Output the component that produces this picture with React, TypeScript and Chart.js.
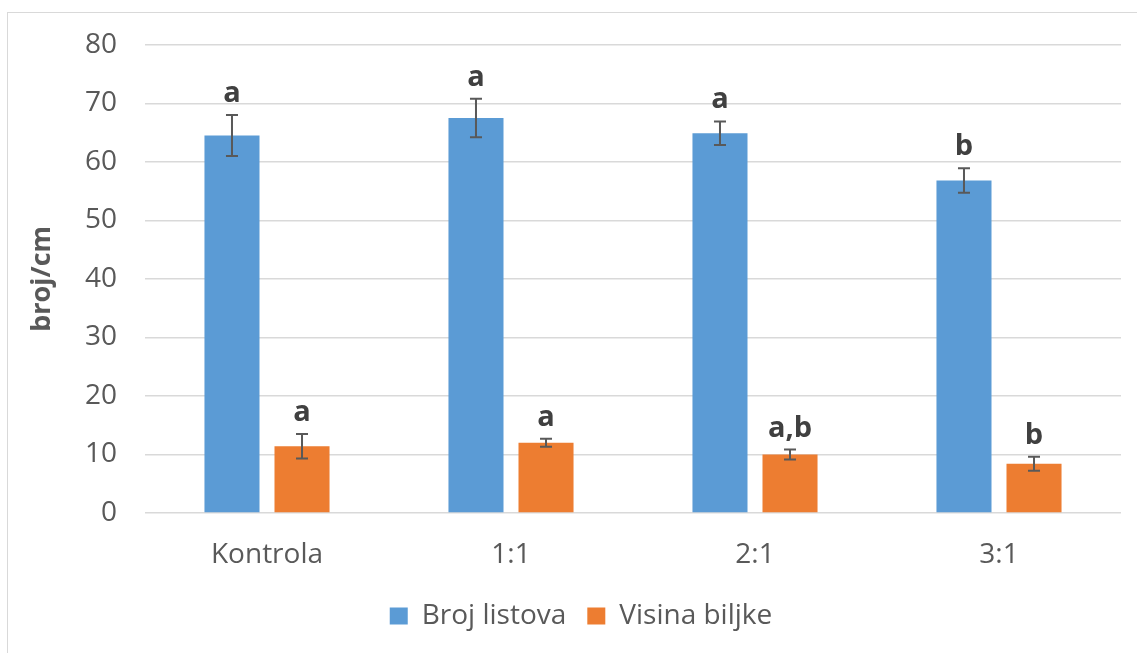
import React, { useEffect, useRef } from "react";
import { Chart, registerables } from "chart.js";

Chart.register(...registerables);

const categories = ["Kontrola", "1:1", "2:1", "3:1"];
const brojListova = [64.5, 67.5, 64.9, 56.8];
const brojListovaErr = [3.5, 3.3, 2.0, 2.1];
const visinaBiljke = [11.4, 12.0, 10.0, 8.4];
const visinaBiljkeErr = [2.1, 0.7, 0.85, 1.2];
const brojLetters = ["a", "a", "a", "b"];
const visinaLetters = ["a", "a", "a,b", "b"];
const yTicks = [0, 10, 20, 30, 40, 50, 60, 70, 80];

const FONT = "'Open Sans', 'Noto Sans', sans-serif";

const errorBarPlugin = {
  id: "errorBars",
  afterDatasetsDraw(chart: any) {
    const ctx = chart.ctx;
    const yScale = chart.scales.y;
    chart.data.datasets.forEach((ds: any, di: number) => {
      const meta = chart.getDatasetMeta(di);
      meta.data.forEach((bar: any, i: number) => {
        const v = ds.data[i];
        const e = ds.errors[i];
        const x = bar.x;
        const yTop = yScale.getPixelForValue(v + e);
        const yBot = yScale.getPixelForValue(v - e);
        ctx.save();
        ctx.strokeStyle = "#595959";
        ctx.lineWidth = 2;
        ctx.beginPath();
        ctx.moveTo(x, yTop);
        ctx.lineTo(x, yBot);
        ctx.moveTo(x - 6, yTop);
        ctx.lineTo(x + 6, yTop);
        ctx.moveTo(x - 6, yBot);
        ctx.lineTo(x + 6, yBot);
        ctx.stroke();
        ctx.fillStyle = "#404040";
        ctx.font = "bold 29px " + FONT;
        ctx.textAlign = "center";
        ctx.textBaseline = "alphabetic";
        ctx.fillText(ds.letters[i], x, yTop - 13);
        ctx.restore();
      });
    });
  },
};

export default function App() {
  const ref = useRef<HTMLCanvasElement | null>(null);
  useEffect(() => {
    if (!ref.current) return;
    Chart.defaults.font.family = FONT;
    const chart = new Chart(ref.current, {
      type: "bar",
      data: {
        labels: categories,
        datasets: [
          {
            label: "Broj listova",
            data: brojListova,
            backgroundColor: "#5b9bd5",
            errors: brojListovaErr,
            letters: brojLetters,
            barPercentage: 0.786,
            categoryPercentage: 0.574,
          } as any,
          {
            label: "Visina biljke",
            data: visinaBiljke,
            backgroundColor: "#ed7d31",
            errors: visinaBiljkeErr,
            letters: visinaLetters,
            barPercentage: 0.786,
            categoryPercentage: 0.574,
          } as any,
        ],
      },
      options: {
        responsive: false,
        animation: false,
        devicePixelRatio: 1,
        layout: { padding: { top: 43, bottom: 13, left: 0, right: 0 } },
        plugins: {
          tooltip: { enabled: false },
          legend: {
            position: "bottom",
            labels: {
              boxWidth: 18,
              boxHeight: 17,
              padding: 21,
              color: "#595959",
              font: { size: 28 },
            },
          },
        },
        scales: {
          x: {
            grid: { display: false },
            border: { display: false },
            ticks: { padding: 17, color: "#595959", font: { size: 28 } },
            afterFit: (s: any) => {
              s.height = 68;
            },
          },
          y: {
            min: 0,
            max: 80,
            afterBuildTicks: (s: any) => {
              s.ticks = yTicks.map((v) => ({ value: v }));
            },
            ticks: { padding: 28, color: "#595959", font: { size: 28 } },
            grid: { color: "#d9d9d9", lineWidth: 1.5, drawTicks: false },
            border: { display: false },
            title: {
              display: true,
              text: "broj/cm",
              color: "#595959",
              font: { size: 27, weight: "bold" },
              padding: { top: 26, bottom: 0 },
            },
            afterFit: (s: any) => {
              s.width = 145;
            },
          },
          y2: {
            position: "right",
            display: true,
            grid: { display: false },
            border: { display: false },
            ticks: { display: false },
            afterFit: (s: any) => {
              s.width = 41;
            },
          },
        },
      } as any,
      plugins: [errorBarPlugin],
    });
    return () => chart.destroy();
  }, []);

  return (
    <div
      style={{
        position: "fixed",
        left: 0,
        top: 0,
        width: 1137,
        height: 653,
        overflow: "hidden",
        background: "#fff",
      }}
    >
      <div
        style={{
          position: "absolute",
          left: 7,
          top: 12,
          width: 1200,
          height: 700,
          borderLeft: "1px solid #d9d9d9",
          borderTop: "1px solid #d9d9d9",
        }}
      />
      <canvas
        ref={ref}
        width={1162}
        height={653}
        style={{ position: "absolute", left: 0, top: 0, width: 1162, height: 653 }}
      />
    </div>
  );
}
